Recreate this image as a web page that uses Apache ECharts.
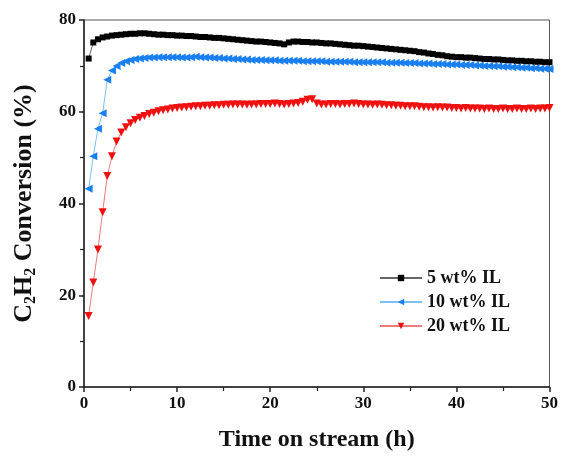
<!DOCTYPE html>
<html lang="en">
<head>
    <meta charset="UTF-8">
    <title>C2H2 Conversion</title>
    <style type="text/css">
        html, body { margin: 0; padding: 0; background: #fff; }
        #chart { width: 561px; height: 457px; }
    </style>
</head>
<body>
<div id="chart"></div>
<script src="https://cdn.jsdelivr.net/npm/echarts@6/dist/echarts.min.js"></script>
<script type="text/javascript">
    // time on stream (h)
    var time = [
        0.5, 1, 1.5, 2, 2.5, 3, 3.5, 4, 4.5, 5,
        5.5, 6, 6.5, 7, 7.5, 8, 8.5, 9, 9.5, 10,
        10.5, 11, 11.5, 12, 12.5, 13, 13.5, 14, 14.5, 15,
        15.5, 16, 16.5, 17, 17.5, 18, 18.5, 19, 19.5, 20,
        20.5, 21, 21.5, 22, 22.5, 23, 23.5, 24, 24.5, 25,
        25.5, 26, 26.5, 27, 27.5, 28, 28.5, 29, 29.5, 30,
        30.5, 31, 31.5, 32, 32.5, 33, 33.5, 34, 34.5, 35,
        35.5, 36, 36.5, 37, 37.5, 38, 38.5, 39, 39.5, 40,
        40.5, 41, 41.5, 42, 42.5, 43, 43.5, 44, 44.5, 45,
        45.5, 46, 46.5, 47, 47.5, 48, 48.5, 49, 49.5, 50
    ];
    var il5 = [
        71.6, 75.1, 75.8, 76.2, 76.4, 76.6, 76.7, 76.8, 76.9, 77.0,
        77.0, 77.1, 77.1, 77.0, 76.9, 76.8, 76.8, 76.7, 76.7, 76.6,
        76.6, 76.5, 76.5, 76.4, 76.3, 76.3, 76.2, 76.1, 76.1, 76.0,
        75.9, 75.8, 75.7, 75.6, 75.5, 75.4, 75.3, 75.3, 75.2, 75.1,
        75.0, 74.9, 74.7, 75.1, 75.3, 75.3, 75.2, 75.2, 75.1, 75.1,
        75.0, 74.9, 74.9, 74.8, 74.7, 74.6, 74.5, 74.4, 74.4, 74.3,
        74.2, 74.1, 74.0, 73.9, 73.8, 73.7, 73.6, 73.5, 73.4, 73.3,
        73.2, 73.0, 72.9, 72.7, 72.6, 72.4, 72.3, 72.1, 72.0, 71.9,
        71.9, 71.8, 71.8, 71.7, 71.6, 71.5, 71.5, 71.4, 71.4, 71.3,
        71.2, 71.2, 71.1, 71.1, 71.0, 71.0, 70.9, 70.9, 70.8, 70.8
    ];
    var il10 = [
        43.2, 50.3, 56.3, 59.7, 67.0, 69.0, 70.0, 70.6, 71.0, 71.3,
        71.5, 71.6, 71.7, 71.8, 71.8, 71.9, 71.9, 71.9, 71.9, 71.9,
        71.8, 71.8, 71.9, 72.0, 71.9, 71.8, 71.8, 71.7, 71.7, 71.6,
        71.6, 71.5, 71.5, 71.4, 71.4, 71.3, 71.3, 71.3, 71.2, 71.2,
        71.2, 71.1, 71.1, 71.1, 71.1, 71.1, 71.0, 71.0, 71.0, 71.0,
        71.0, 70.9, 70.9, 70.9, 70.9, 70.9, 70.9, 70.8, 70.8, 70.8,
        70.8, 70.8, 70.8, 70.8, 70.7, 70.7, 70.7, 70.7, 70.6, 70.6,
        70.6, 70.5, 70.5, 70.5, 70.4, 70.4, 70.4, 70.3, 70.3, 70.3,
        70.2, 70.2, 70.2, 70.1, 70.1, 70.0, 70.0, 69.9, 69.9, 69.8,
        69.8, 69.7, 69.7, 69.6, 69.6, 69.5, 69.5, 69.4, 69.4, 69.3
    ];
    var il20 = [
        15.5, 22.8, 30.0, 38.1, 46.0, 50.3, 53.5, 55.5, 56.6, 57.5,
        58.2, 58.7, 59.1, 59.5, 59.8, 60.1, 60.3, 60.5, 60.7, 60.8,
        60.9, 61.0, 61.1, 61.2, 61.2, 61.3, 61.3, 61.4, 61.4, 61.5,
        61.5, 61.6, 61.6, 61.6, 61.5, 61.6, 61.6, 61.7, 61.7, 61.7,
        61.8, 61.7, 61.6, 61.7, 61.8, 61.9, 62.2, 62.6, 62.7, 61.8,
        61.6, 61.6, 61.7, 61.7, 61.6, 61.7, 61.7, 61.8, 61.7, 61.6,
        61.6, 61.5, 61.6, 61.5, 61.4, 61.4, 61.3, 61.3, 61.2, 61.2,
        61.2, 61.1, 61.0, 61.0, 60.9, 61.0, 60.9, 60.9, 60.8, 60.8,
        60.7, 60.8, 60.7, 60.7, 60.7, 60.6, 60.7, 60.6, 60.6, 60.7,
        60.6, 60.6, 60.7, 60.6, 60.6, 60.7, 60.6, 60.7, 60.7, 60.8
    ];

    function pairs(arr) {
        return time.map(function (t, i) { return [t, arr[i]]; });
    }

    var serif = "'Liberation Serif', 'Times New Roman', serif";
    var tickLabel = { fontFamily: serif, fontWeight: 'bold', fontSize: 17, color: '#111' };

    var chart = echarts.init(document.getElementById('chart'));
    chart.setOption({
        animation: false,
        grid: {
            left: 84, right: 8, top: 20, bottom: 66,
            show: true, borderColor: '#555', borderWidth: 1
        },
        legend: {
            left: 374, top: 264,
            orient: 'vertical',
            itemWidth: 42, itemHeight: 8, itemGap: 6,
            textStyle: { fontFamily: serif, fontWeight: 'bold', fontSize: 18, color: '#111' },
            data: ['5 wt% IL', '10 wt% IL', '20 wt% IL']
        },
        xAxis: {
            type: 'value', min: 0, max: 50, interval: 10,
            name: 'Time on stream (h)', nameLocation: 'middle', nameGap: 41,
            nameTextStyle: { fontFamily: serif, fontWeight: 'bold', fontSize: 24, color: '#111' },
            axisLine: { lineStyle: { color: '#222', width: 1.5 } },
            axisTick: { length: 5, lineStyle: { color: '#222', width: 1.5 } },
            minorTick: { show: true, splitNumber: 2, length: 4, lineStyle: { color: '#222', width: 1.2 } },
            axisLabel: Object.assign({ margin: 8 }, tickLabel),
            splitLine: { show: false }
        },
        yAxis: {
            type: 'value', min: 0, max: 80, interval: 20,
            name: '{a|C}{s|2}{a|H}{s|2}{a| Conversion (%)}',
            nameLocation: 'middle', nameGap: 44,
            nameTextStyle: {
                rich: {
                    a: { fontFamily: serif, fontWeight: 'bold', fontSize: 26, color: '#111', lineHeight: 32 },
                    s: { fontFamily: serif, fontWeight: 'bold', fontSize: 16, color: '#111', lineHeight: 32, padding: [13, 0, 0, 0] }
                }
            },
            axisLine: { show: true, lineStyle: { color: '#222', width: 1.5 } },
            axisTick: { show: true, length: 5, lineStyle: { color: '#222', width: 1.5 } },
            minorTick: { show: true, splitNumber: 2, length: 4, lineStyle: { color: '#222', width: 1.2 } },
            axisLabel: Object.assign({ margin: 8 }, tickLabel),
            splitLine: { show: false }
        },
        series: [
            {
                name: '5 wt% IL', type: 'line', data: pairs(il5),
                symbol: 'rect', symbolSize: 6,
                itemStyle: { color: '#000' },
                lineStyle: { color: '#666', width: 1 }
            },
            {
                name: '10 wt% IL', type: 'line', data: pairs(il10),
                symbol: 'triangle', symbolSize: 8, symbolRotate: 90,
                itemStyle: { color: '#1a7ff0' },
                lineStyle: { color: '#7cc0f5', width: 1 }
            },
            {
                name: '20 wt% IL', type: 'line', data: pairs(il20),
                symbol: 'triangle', symbolSize: 8, symbolRotate: 180,
                itemStyle: { color: '#f01010' },
                lineStyle: { color: '#f07a7a', width: 1 }
            }
        ]
    });
</script>
</body>
</html>
